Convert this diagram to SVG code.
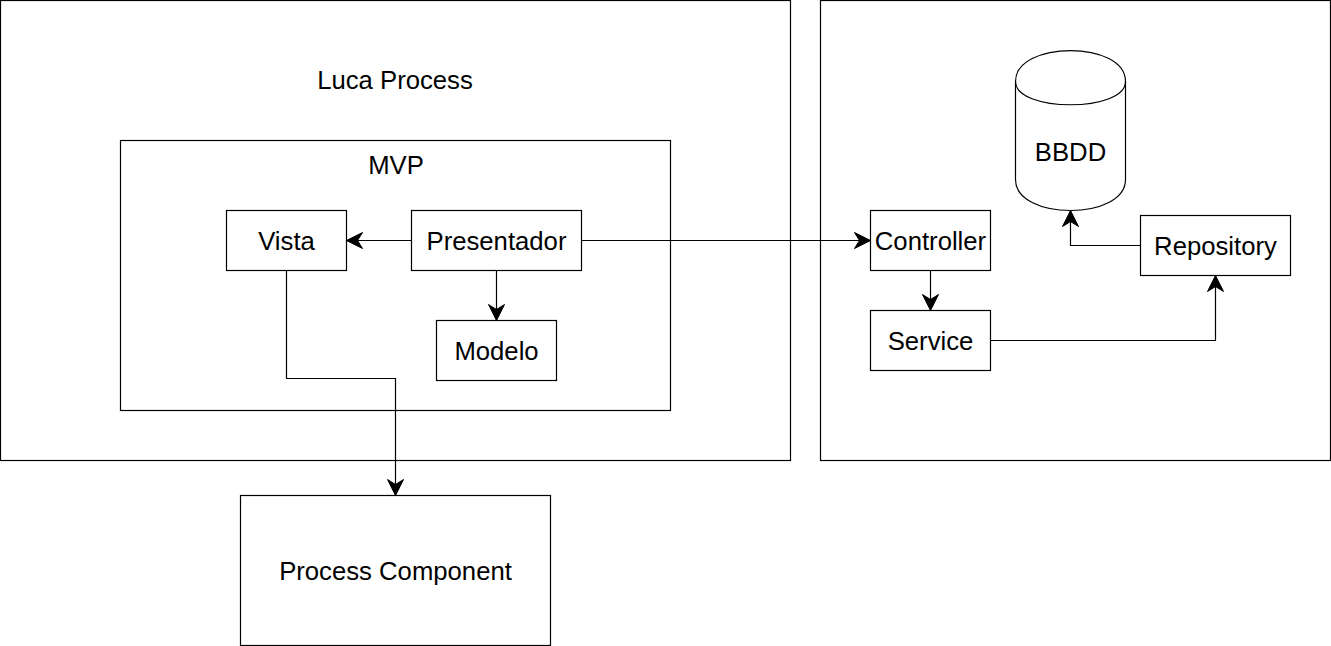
<svg xmlns="http://www.w3.org/2000/svg" width="1331" height="646" viewBox="0 0 1331 646">
<style>
.b{fill:#fff;stroke:#000;stroke-width:1.2}
.t{font-family:"Liberation Sans",Arial,sans-serif;font-size:25.7px;fill:#000;text-anchor:middle}
.c{fill:none;stroke:#000;stroke-width:1.2;marker-end:url(#a)}
</style>
<defs>
<marker id="a" markerUnits="userSpaceOnUse" markerWidth="20" markerHeight="20" viewBox="-17 -10 20 20" refX="0" refY="0" orient="auto">
<path d="M0,0 L-16,-8 L-11,0 L-16,8 Z" fill="#000" stroke="#000" stroke-width="1"/>
</marker>
</defs>
<rect width="1331" height="646" fill="#fff"/>
<g id="luca-process"><rect class="b" x="0.5" y="0.5" width="790" height="460"/><text class="t" x="395" y="89">Luca Process</text></g>
<g id="backend"><rect class="b" x="820.5" y="0.5" width="510" height="460"/></g>
<g id="mvp"><rect class="b" x="120.5" y="140.5" width="550" height="270"/><text class="t" x="396" y="174">MVP</text></g>
<g id="vista"><rect class="b" x="226.5" y="210.5" width="120" height="60"/><text class="t" x="286.5" y="250">Vista</text></g>
<g id="presentador"><rect class="b" x="411.5" y="210.5" width="170" height="60"/><text class="t" x="496.5" y="250">Presentador</text></g>
<g id="modelo"><rect class="b" x="436.5" y="320.5" width="120" height="60"/><text class="t" x="496.5" y="360">Modelo</text></g>
<g id="process-component"><rect class="b" x="240.5" y="495.5" width="310" height="150"/><text class="t" x="395.5" y="580">Process Component</text></g>
<g id="controller"><rect class="b" x="870.5" y="210.5" width="120" height="60"/><text class="t" x="930.5" y="250">Controller</text></g>
<g id="service"><rect class="b" x="870.5" y="310.5" width="120" height="60"/><text class="t" x="930.5" y="350">Service</text></g>
<g id="repository"><rect class="b" x="1140.5" y="215.5" width="150" height="60"/><text class="t" x="1215.5" y="255">Repository</text></g>
<g id="bbdd">
<path class="b" d="M1015.5,81.5 C1015.5,40.2 1125.5,40.2 1125.5,81.5 L1125.5,179.5 C1125.5,220.8 1015.5,220.8 1015.5,179.5 Z"/>
<path fill="none" stroke="#000" stroke-width="1.2" d="M1015.5,81.5 C1015.5,112.5 1125.5,112.5 1125.5,81.5"/>
<text class="t" x="1070.5" y="161">BBDD</text>
</g>
<g id="connectors">
<path class="c" d="M411.5,240.5 L346.5,240.5"/>
<path class="c" d="M496.5,270.5 L496.5,320.5"/>
<path class="c" d="M581.5,240.5 L870.5,240.5"/>
<path class="c" d="M286.5,270.5 L286.5,378.5 L395.5,378.5 L395.5,495.5"/>
<path class="c" d="M930.5,270.5 L930.5,310.5"/>
<path class="c" d="M990.5,340.5 L1215.5,340.5 L1215.5,275.5"/>
<path class="c" d="M1140.5,245.5 L1070.5,245.5 L1070.5,210.5"/>
</g>
</svg>
